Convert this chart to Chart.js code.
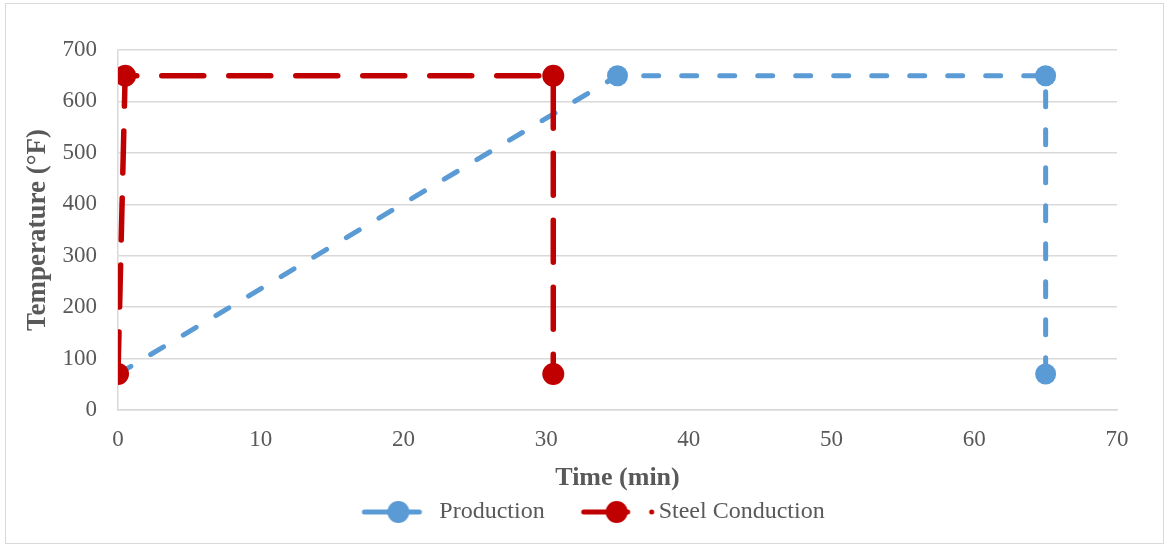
<!DOCTYPE html>
<html>
<head>
<meta charset="utf-8">
<script src="https://cdn.jsdelivr.net/npm/chart.js@4.4.1/dist/chart.umd.min.js"></script>
<style>
  html, body { margin: 0; padding: 0; background: #fff; }
  #wrap { position: relative; width: 1167px; height: 546px; }
  #frame { position: absolute; left: 5px; top: 3px; right: 3px; bottom: 2px; border: 1px solid #d9d9d9; pointer-events: none; }
</style>
</head>
<body>
<div id="wrap">
  <canvas id="tempChart" width="1167" height="546"></canvas>
  <div id="frame"></div>
</div>
<script>
// heating profiles, time in minutes vs temperature in °F
const productionTime = [0, 35, 65, 65];
const productionTemp = [70, 650, 650, 70];
const steelTime = [0, 0.5, 30.5, 30.5];
const steelTemp = [70, 650, 650, 70];
const xTicks = [0, 10, 20, 30, 40, 50, 60, 70];
const yTicks = [0, 100, 200, 300, 400, 500, 600, 700];

const BLUE = '#5B9BD5';
const RED = '#C00000';
const GREY_TEXT = '#595959';
const SERIF = '"Liberation Serif", "Times New Roman", serif';

const toPoints = (xs, ys) => xs.map((x, i) => ({ x: x, y: ys[i] }));

// line + marker sample for the legend (120px wide, centred on the 96px box)
function legendSample(color, lineStart, lineEnd, markerX, dotX) {
  const c = document.createElement('canvas');
  c.width = 120;
  c.height = 24;
  const g = c.getContext('2d');
  g.strokeStyle = color;
  g.fillStyle = color;
  g.lineWidth = 5;
  g.lineCap = 'round';
  g.beginPath();
  g.moveTo(lineStart, 12);
  g.lineTo(lineEnd, 12);
  g.stroke();
  g.beginPath();
  g.arc(markerX, 12, 11, 0, Math.PI * 2);
  g.fill();
  if (dotX) {
    g.beginPath();
    g.arc(dotX, 12, 2.5, 0, Math.PI * 2);
    g.fill();
  }
  return c;
}

const samples = [
  legendSample(BLUE, 45, 100, 79, null),
  legendSample(RED, 45, 89, 78, 113),
];

const ctx = document.getElementById('tempChart').getContext('2d');
new Chart(ctx, {
  type: 'scatter',
  data: {
    datasets: [
      {
        label: 'Production',
        data: toPoints(productionTime, productionTemp),
        showLine: true,
        borderColor: BLUE,
        backgroundColor: BLUE,
        borderWidth: 5,
        borderDash: [15, 23],
        borderCapStyle: 'round',
        pointRadius: 10.5,
        pointBorderWidth: 0,
        order: 1,
      },
      {
        label: 'Steel Conduction',
        data: toPoints(steelTime, steelTemp),
        showLine: true,
        borderColor: RED,
        backgroundColor: RED,
        borderWidth: 5.5,
        borderDash: [42, 25],
        borderCapStyle: 'round',
        pointRadius: 11,
        pointBorderWidth: 0,
        order: 0,
      },
    ],
  },
  options: {
    responsive: false,
    animation: false,
    layout: { padding: { left: 20, right: 31, top: 50, bottom: 12 } },
    plugins: {
      tooltip: { enabled: false },
      legend: {
        position: 'bottom',
        labels: {
          usePointStyle: true,
          pointStyleWidth: 96,
          padding: 6,
          color: GREY_TEXT,
          font: { family: SERIF, size: 24 },
          sort: (a, b) => a.datasetIndex - b.datasetIndex,
          generateLabels(chart) {
            const items = Chart.defaults.plugins.legend.labels.generateLabels(chart);
            items.forEach((it) => { it.pointStyle = samples[it.datasetIndex]; });
            return items;
          },
        },
      },
    },
    scales: {
      x: {
        type: 'linear',
        min: 0,
        max: 70,
        afterBuildTicks: (axis) => { axis.ticks = xTicks.map((v) => ({ value: v })); },
        afterFit: (axis) => { axis.height = 84; },
        grid: { display: false, drawTicks: false },
        border: { color: '#d9d9d9', width: 1.5 },
        ticks: {
          padding: 16,
          color: GREY_TEXT,
          font: { family: SERIF, size: 23 },
        },
        title: {
          display: true,
          text: 'Time (min)',
          color: GREY_TEXT,
          padding: { top: 7, bottom: 0 },
          font: { family: SERIF, size: 26, weight: 'bold' },
        },
      },
      y: {
        type: 'linear',
        min: 0,
        max: 700,
        afterBuildTicks: (axis) => { axis.ticks = yTicks.map((v) => ({ value: v })); },
        afterFit: (axis) => { axis.width = 98; },
        grid: { color: '#d9d9d9', lineWidth: 1.5, drawTicks: false },
        border: { color: '#d9d9d9', width: 1.5 },
        ticks: {
          padding: 21,
          color: GREY_TEXT,
          font: { family: SERIF, size: 23 },
        },
        title: {
          display: true,
          text: 'Temperature (°F)',
          color: GREY_TEXT,
          padding: { top: 2, bottom: 0 },
          font: { family: SERIF, size: 27, weight: 'bold' },
        },
      },
      // empty right-hand gutter so the legend sits centred like the original layout
      gutter: {
        type: 'linear',
        position: 'right',
        display: true,
        afterFit: (axis) => { axis.width = 19; },
        grid: { display: false, drawTicks: false },
        border: { display: false },
        ticks: { display: false },
      },
    },
  },
});
</script>
</body>
</html>
